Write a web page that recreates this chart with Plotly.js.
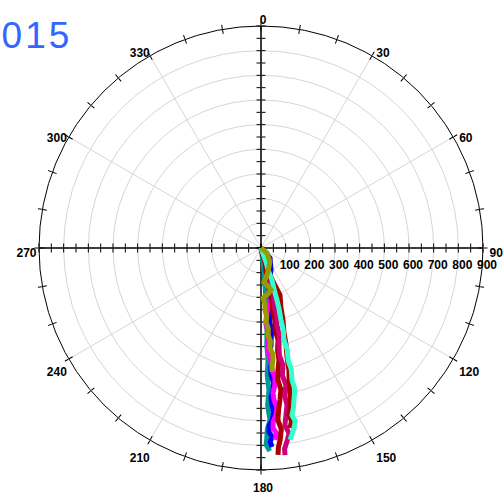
<!DOCTYPE html>
<html>
<head>
<meta charset="utf-8">
<script src="https://cdn.plot.ly/plotly-3.0.1.min.js"></script>
<style>html,body{margin:0;padding:0;background:#fff;}#chart{width:504px;height:495px;}</style>
</head>
<body>
<div id="chart"></div>
<script>
// ---- data (radius, angle in degrees clockwise from north) ----
const titleText = '2015';
const angleTicks = [0, 30, 60, 90, 120, 150, 180, 210, 240, 270, 300, 330];
const angleLabels = ['0', '30', '60', '90', '120', '150', '180', '210', '240', '270', '300', '330'];
const radialTicks = [0, 100, 200, 300, 400, 500, 600, 700, 800, 900];
const radialLabels = ['0', '100', '200', '300', '400', '500', '600', '700', '800', '900'];
const radialMinorTicks = [0, 50, 100, 150, 200, 250, 300, 350, 400, 450, 500, 550, 600, 650, 700, 750, 800, 850, 900];
const angleMinorTicks = [0,10,20,30,40,50,60,70,80,90,100,110,120,130,140,150,160,170,180,190,200,210,220,230,240,250,260,270,280,290,300,310,320,330,340,350];

const seriesNames = ['teal', 'blue', 'magenta', 'darkred', 'crimson', 'darkred2', 'cyan', 'olive'];
const seriesColors = ['#009999', '#0000ff', '#ff00ff', '#aa0000', '#cc0077', '#aa0000', '#33ffcc', '#999900'];

const teal_r = [0, 90, 150, 212, 270, 333, 395, 455, 515, 577, 640, 698, 735, 767, 799, 824];
const teal_t = [180, 172.2, 173.8, 174.5, 175.4, 175.8, 176.6, 176.4, 177.2, 176.8, 177.6, 177, 178, 178.2, 178.5, 177.5];

const blue_r = [0, 55, 98, 125, 154, 185, 215, 245, 274, 305, 335, 365, 395, 425, 456, 486, 516, 548, 578, 608, 638, 668, 699, 722, 747, 767, 787, 808];
const blue_t = [180, 138, 155.6, 163, 167.8, 168.8, 169.1, 171.4, 172.3, 173.3, 172.4, 173.5, 174.1, 175, 174.4, 175.4, 175.5, 174.6, 175.2, 176.2, 176, 175.6, 176.3, 177.4, 177.5, 176.6, 177.3, 176.8];

const magenta_r = [0, 59, 113, 140, 168, 190, 215, 240, 261, 287, 313, 344, 374, 405, 435, 466, 497, 527, 558, 590, 619, 650, 680, 706, 731, 755, 780];
const magenta_t = [180, 164.1, 165.5, 163.5, 164.6, 167, 169.1, 172.8, 174.6, 175.8, 176.3, 175.2, 175.6, 176.3, 175.7, 174.9, 174.8, 173.8, 174.2, 175.3, 175.1, 174.3, 174.9, 176, 176.2, 175.2, 175.8];

const darkred_r = [0, 59, 95, 133, 175, 216, 257, 297, 338, 379, 420, 460, 500, 540, 580, 621, 660, 701, 740, 782, 810, 842];
const darkred_t = [180, 164.1, 168, 167.7, 169, 168.1, 169.6, 169, 170.2, 169.5, 170.8, 170.9, 172.1, 172.7, 172, 172.9, 173.8, 174.4, 173.6, 174.3, 175, 175.3];

const crimson_r = [0, 73, 115, 155, 196, 237, 278, 319, 360, 400, 441, 483, 524, 565, 605, 645, 685, 724, 760, 793, 820, 845];
const crimson_t = [180, 160.6, 164, 164.9, 165.2, 167.2, 166.8, 168.3, 168.2, 169.5, 170.3, 169.4, 170.5, 169.7, 170.9, 170.6, 171.5, 172.3, 171.4, 172.4, 173.3, 173.4];

const darkred2_r = [0, 50, 94, 150, 206, 255, 305, 355, 406, 455, 507, 557, 607, 646, 686, 712, 739];
const darkred2_t = [180, 165, 162.4, 160, 158, 161.5, 163, 164.8, 165.5, 166.6, 167.1, 168.2, 168.8, 169.4, 170.5, 170, 170.8];

const cyan_r = [0, 60, 100, 137, 180, 221, 262, 303, 344, 384, 425, 467, 508, 550, 590, 631, 660, 689, 715, 742, 765, 787];
const cyan_t = [180, 160.3, 162, 161, 162.5, 162.9, 163.6, 164.5, 164.8, 166, 165.5, 166.4, 166, 166.8, 166.5, 167.8, 168.5, 169.5, 168.8, 169.6, 170.5, 171.4];

const olive_r = [0, 32, 67, 101, 120, 138, 155, 175, 190, 203, 228, 252, 277, 301, 328, 354, 380, 407, 432, 457, 480, 505];
const olive_t = [180, 129.8, 147.3, 163.7, 170, 175, 170, 166.6, 172, 177.7, 176, 176.3, 175.2, 176.1, 174.8, 175.4, 174.2, 174.9, 173.6, 173.9, 174.6, 174.9];

const seriesR = [teal_r, blue_r, magenta_r, darkred_r, crimson_r, darkred2_r, cyan_r, olive_r];
const seriesT = [teal_t, blue_t, magenta_t, darkred_t, crimson_t, darkred2_t, cyan_t, olive_t];

// ---- layout ----
const W = 504, H = 495;
const FONT = 'Liberation Sans, Arial, sans-serif';
const labelFont = {family: FONT, size: 12, color: '#000', weight: 'bold'};
const RMAX = 900;

// square polar domain in pixels (left, top, size) -> paper fractions
function dom(left, top, size) {
  return {x: [left / W, (left + size) / W], y: [1 - (top + size) / H, 1 - top / H]};
}
const MAIN = dom(39, 26, 444);

function basePolar(d) {
  return {
    domain: d || MAIN,
    bgcolor: 'rgba(0,0,0,0)',
    angularaxis: {rotation: 90, direction: 'clockwise', showgrid: false, showline: false,
                  showticklabels: false, ticks: ''},
    radialaxis: {range: [0, RMAX], showgrid: false, showline: false, showticklabels: false, ticks: ''}
  };
}

const layout = {
  width: W, height: H,
  margin: {l: 0, r: 0, t: 0, b: 0},
  paper_bgcolor: '#fff',
  showlegend: false,
  dragmode: false,
  font: {family: FONT},
  annotations: [{text: '<span style="letter-spacing:3px">' + titleText + '</span>',
    xref: 'paper', yref: 'paper', x: -24 / W, y: 1 - 35 / H,
    xanchor: 'left', yanchor: 'middle', showarrow: false,
    font: {family: FONT, size: 37, color: '#3366ff'}}]
};

const subplotIds = [];
function addPolar(p) {
  const id = subplotIds.length === 0 ? 'polar' : 'polar' + (subplotIds.length + 1);
  layout[id] = p;
  subplotIds.push(id);
  return id;
}

// main polar: grids and outer circle
const p1 = basePolar();
p1.bgcolor = '#fff';
p1.angularaxis = {rotation: 90, direction: 'clockwise', tickmode: 'array', tickvals: angleTicks,
  showgrid: true, gridcolor: '#d6d6d6', gridwidth: 1, showline: true, showticklabels: false,
  linecolor: '#000', linewidth: 1, ticks: ''};
p1.radialaxis = {range: [0, RMAX], angle: 0, tickmode: 'array', tickvals: radialTicks,
  showgrid: true, gridcolor: '#d6d6d6', gridwidth: 1, showline: false, ticks: '', showticklabels: false};
addPolar(p1);

// angular labels (placed slightly further out and lower, as in the reference)
const pA = basePolar(dom(37, 27, 452));
pA.angularaxis = {rotation: 90, direction: 'clockwise', tickmode: 'array', tickvals: angleTicks,
  ticktext: angleLabels, showgrid: false, showline: false, ticks: '', tickfont: labelFont};
addPolar(pA);

// radial labels
const pR = basePolar(dom(43, 26, 444));
pR.radialaxis = {range: [0, RMAX], angle: 0, tickmode: 'array', tickvals: radialTicks, ticktext: radialLabels,
  showgrid: false, showline: false, ticks: 'outside', ticklen: 6, tickcolor: 'rgba(0,0,0,0)', tickfont: labelFont};
addPolar(pR);

// crosshair axes with ticks on both sides, and outer-circle ticks
const crossAngles = [0, 90, 180, 270];
const sides = ['outside', 'inside'];
crossAngles.forEach(function (a) {
  sides.forEach(function (s) {
    const p = basePolar();
    p.radialaxis = {range: [0, RMAX], angle: a, showline: true, linecolor: '#000', linewidth: 1,
      tickmode: 'array', tickvals: radialMinorTicks, ticks: s, ticklen: 4, tickcolor: '#000', tickwidth: 1,
      showticklabels: false, showgrid: false};
    if (a === 0) {
      p.angularaxis = {rotation: 90, direction: 'clockwise', tickmode: 'array', tickvals: angleMinorTicks,
        ticks: s, ticklen: 4, tickcolor: '#000', tickwidth: 1, showticklabels: false, showgrid: false,
        showline: false};
    }
    addPolar(p);
  });
});

// empty placeholder traces so every axis subplot is drawn
const traces = subplotIds.map(function (sp) {
  return {type: 'scatterpolar', mode: 'markers', r: [null], theta: [null], subplot: sp,
          hoverinfo: 'skip', marker: {opacity: 0}};
});

// data subplot on top
const dataPolar = addPolar(basePolar());
seriesNames.forEach(function (name, i) {
  traces.push({
    type: 'scatterpolar', mode: 'lines', name: name,
    r: seriesR[i], theta: seriesT[i], subplot: dataPolar,
    line: {color: seriesColors[i], width: 5}, hoverinfo: 'skip'
  });
});

Plotly.newPlot('chart', traces, layout, {displayModeBar: false, staticPlot: true});
</script>
</body>
</html>
